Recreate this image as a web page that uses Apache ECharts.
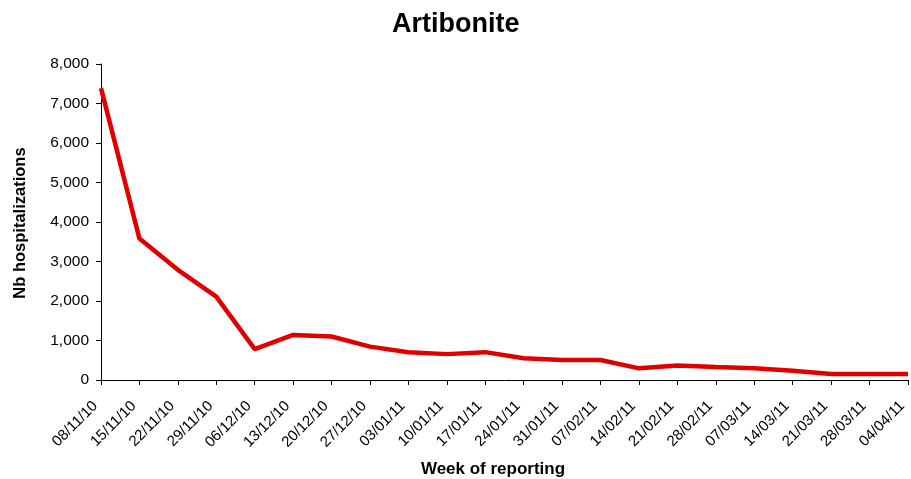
<!DOCTYPE html>
<html>
<head>
<meta charset="utf-8">
<script src="https://cdn.jsdelivr.net/npm/echarts@6/dist/echarts.min.js"></script>
<style>
html,body{margin:0;padding:0;background:#fff;}
.main{width:911px;height:479px;}
</style>
</head>
<body>
<div class="main"></div>
<script>
// semaines de reporting
var weeks = ['08/11/10', '15/11/10', '22/11/10', '29/11/10', '06/12/10', '13/12/10', '20/12/10', '27/12/10',
  '03/01/11', '10/01/11', '17/01/11', '24/01/11', '31/01/11', '07/02/11', '14/02/11', '21/02/11',
  '28/02/11', '07/03/11', '14/03/11', '21/03/11', '28/03/11', '04/04/11'];
// nombre d'hospitalisations
var hospitalizations = [7390, 3580, 2790, 2110, 780, 1140, 1100, 845, 705, 655, 705, 550,
  505, 505, 295, 370, 330, 295, 235, 150, 150, 150];

(function(){
  var myChart = echarts.init(document.querySelector('.main'));
  var option = {
    animation: false,
    title: {
      text: 'Artibonite',
      left: 387,
      top: 6,
      textStyle: {
        color: '#000',
        fontFamily: 'Liberation Sans',
        fontSize: 27,
        fontWeight: 'bold'
      }
    },
    // titres des axes
    graphic: [
      {
        type: 'text',
        x: 493,
        y: 469,
        style: {
          text: 'Week of reporting',
          fill: '#000',
          font: 'bold 17px "Liberation Sans"',
          align: 'center',
          verticalAlign: 'middle'
        }
      },
      {
        type: 'text',
        x: 20,
        y: 223,
        rotation: Math.PI / 2,
        style: {
          text: 'Nb hospitalizations',
          fill: '#000',
          font: 'bold 16.5px "Liberation Sans"',
          align: 'center',
          verticalAlign: 'middle'
        }
      }
    ],
    grid: {
      left: 101,
      right: 3,
      top: 64,
      bottom: 99,
      containLabel: false,
      outerBoundsMode: 'none'
    },
    xAxis: {
      type: 'category',
      boundaryGap: false,
      data: weeks,
      axisLine: {
        lineStyle: { color: '#000', width: 1 }
      },
      axisTick: {
        show: true,
        length: 5,
        lineStyle: { color: '#000' }
      },
      axisLabel: {
        interval: 0,
        rotate: 45,
        color: '#000',
        fontFamily: 'Liberation Sans',
        fontSize: 15,
        margin: 18,
        padding: [0, 8, 0, 0]
      }
    },
    yAxis: {
      type: 'value',
      min: 0,
      max: 8000,
      interval: 1000,
      axisLine: {
        show: true,
        lineStyle: { color: '#000', width: 1 }
      },
      axisTick: {
        show: true,
        length: 5,
        lineStyle: { color: '#000' }
      },
      splitLine: { show: false },
      axisLabel: {
        color: '#000',
        fontFamily: 'Liberation Sans',
        fontSize: 15.5,
        margin: 12,
        formatter: function(v){
          return String(v).replace(/\B(?=(\d{3})+(?!\d))/g, ',');
        }
      }
    },
    series: [
      {
        name: 'Artibonite',
        type: 'line',
        data: hospitalizations,
        symbol: 'none',
        lineStyle: {
          color: '#e00000',
          width: 4.5
        }
      }
    ]
  };
  myChart.setOption(option);
  window.addEventListener('resize', function(){
    myChart.resize();
  });
})();
</script>
</body>
</html>
